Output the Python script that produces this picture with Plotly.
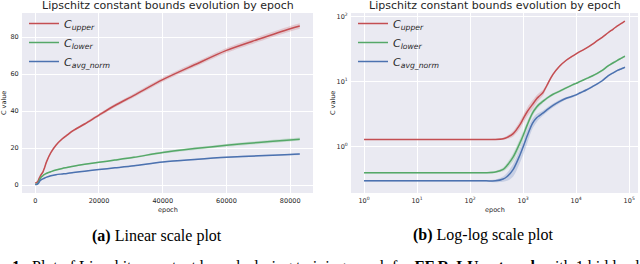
import plotly.graph_objects as go

# ---------------- data ----------------
epochs = [1, 10, 100, 200, 300, 420, 500, 650, 870, 1000, 1200, 1500, 1800, 2000,
          2350, 2800, 3600, 4900, 6500, 8500, 10000, 12000, 15500, 20000, 25000,
          31000, 40000, 50000, 60000, 70000, 80000, 83000]

c_upper = [1.3, 1.3, 1.3, 1.3, 1.3, 1.33, 1.4, 1.6, 2.2, 2.7, 3.5, 4.5, 5.5, 6.0,
           6.8, 8.8, 12.8, 17.5, 21.5, 25.0, 27.0, 29.5, 33.0, 37.8, 43.0,
           48.5, 57.0, 65.0, 72.8, 78.8, 84.5, 86.0]
c_lower = [0.40, 0.40, 0.40, 0.40, 0.41, 0.45, 0.52, 0.70, 1.15, 1.5, 2.2, 3.3, 4.1, 4.5,
           5.0, 5.6, 6.4, 7.2, 8.1, 9.0, 9.5, 10.2, 11.2, 12.3, 13.5,
           15.0, 17.6, 19.7, 21.5, 23.0, 24.4, 24.8]
c_avg = [0.30, 0.30, 0.30, 0.30, 0.30, 0.32, 0.35, 0.45, 0.75, 1.0, 1.5, 2.3, 2.8, 3.0,
         3.3, 3.7, 4.3, 5.0, 5.6, 6.0, 6.3, 6.8, 7.5, 8.4, 9.3,
         10.4, 12.4, 13.8, 15.0, 15.8, 16.5, 16.8]

std_upper = [0.02, 0.02, 0.02, 0.02, 0.03, 0.05, 0.08, 0.15, 0.3, 0.4, 0.55, 0.7, 0.75, 0.75,
             0.7, 0.6, 0.6, 0.6, 0.6, 0.6, 0.6, 0.6, 0.7, 0.8, 0.9,
             1.0, 1.1, 1.2, 1.3, 1.4, 1.5, 1.5]
std_lower = [0.01, 0.01, 0.01, 0.01, 0.015, 0.03, 0.05, 0.1, 0.18, 0.22, 0.3, 0.35, 0.35, 0.35,
             0.3, 0.3, 0.3, 0.3, 0.3, 0.3, 0.3, 0.3, 0.35, 0.4, 0.5,
             0.55, 0.6, 0.7, 0.75, 0.8, 0.85, 0.9]
std_avg = [0.01, 0.01, 0.01, 0.01, 0.015, 0.03, 0.05, 0.1, 0.18, 0.25, 0.35, 0.4, 0.4, 0.35,
           0.3, 0.3, 0.3, 0.3, 0.25, 0.25, 0.25, 0.25, 0.25, 0.3, 0.3,
           0.35, 0.35, 0.4, 0.4, 0.45, 0.45, 0.5]

series_names = ["<i>C</i><sub><i>upper</i></sub>",
                "<i>C</i><sub><i>lower</i></sub>",
                "<i>C</i><sub><i>avg_norm</i></sub>"]
series_values = [c_upper, c_lower, c_avg]
series_std = [std_upper, std_lower, std_avg]
series_colors = ["#C44E52", "#55A868", "#4C72B0"]
band_colors = ["rgba(196,78,82,0.22)", "rgba(85,168,104,0.22)", "rgba(76,114,176,0.22)"]

lin_xticks = [0, 20000, 40000, 60000, 80000]
lin_yticks = [0, 20, 40, 60, 80]
log_xticks = [1, 10, 100, 1000, 10000, 100000]
log_xticktext = ["10<sup>0</sup>", "10<sup>1</sup>", "10<sup>2</sup>",
                 "10<sup>3</sup>", "10<sup>4</sup>", "10<sup>5</sup>"]
log_yticks = [1, 10, 100]
log_yticktext = ["10<sup>0</sup>", "10<sup>1</sup>", "10<sup>2</sup>"]

title_text = "Lipschitz constant bounds evolution by epoch"
caption_a = "<b>(a)</b> Linear scale plot"
caption_b = "<b>(b)</b> Log-log scale plot"
caption_fig = ("<b>1.</b>  Plot of Lipschitz constant bounds during training epoch for "
               "<b>FF ReLU network</b> with 1 hidden layer")

# ---------------- layout helpers ----------------
W, H = 640, 264
def px_x(p):
    return p / W
def px_y(p):
    return 1 - p / H

BG = "#EAEAF2"
TXT = "#262626"
FONT = "DejaVu Sans"

fig = go.Figure()

def add_series(xaxis, yaxis, legend, showlegend):
    for name, vals, sd, col, bcol in zip(series_names, series_values, series_std,
                                         series_colors, band_colors):
        lo = [v - s for v, s in zip(vals, sd)]
        hi = [v + s for v, s in zip(vals, sd)]
        fig.add_trace(go.Scatter(x=epochs, y=lo, mode="lines", line=dict(width=0, shape="spline", smoothing=0.8),
                                 hoverinfo="skip", showlegend=False, xaxis=xaxis, yaxis=yaxis))
        fig.add_trace(go.Scatter(x=epochs, y=hi, mode="lines", line=dict(width=0, shape="spline", smoothing=0.8),
                                 fill="tonexty", fillcolor=bcol, hoverinfo="skip", showlegend=False,
                                 xaxis=xaxis, yaxis=yaxis))
        fig.add_trace(go.Scatter(x=epochs, y=vals, mode="lines", name=name,
                                 line=dict(color=col, width=1.5, shape="spline", smoothing=0.8),
                                 showlegend=showlegend, legend=legend, xaxis=xaxis, yaxis=yaxis))

add_series("x", "y", "legend", True)
add_series("x2", "y2", "legend2", True)

tickfont = dict(family=FONT, size=6.5, color=TXT)
common = dict(showgrid=True, gridcolor="white", gridwidth=1, zeroline=False, showline=False,
              ticks="outside", ticklen=1, tickcolor="rgba(0,0,0,0)", tickfont=tickfont)

L_left, L_right = 22, 313
R_left, R_right = 351, 638
P_top, P_bot = 13, 193

legend_common = dict(xanchor="left", yanchor="top", traceorder="normal",
                     bgcolor="rgba(0,0,0,0)", font=dict(family=FONT, size=11, color=TXT),
                     tracegroupgap=0)

fig.update_layout(
    width=W, height=H,
    margin=dict(l=0, r=0, t=0, b=0),
    paper_bgcolor="white",
    plot_bgcolor=BG,
    xaxis=dict(domain=[px_x(L_left), px_x(L_right)], anchor="y", range=[-4150, 87150],
               tickvals=lin_xticks, tickformat="d", **common),
    yaxis=dict(domain=[px_y(P_bot), px_y(P_top)], anchor="x", range=[-4.3, 93],
               tickvals=lin_yticks, **common),
    xaxis2=dict(domain=[px_x(R_left), px_x(R_right)], anchor="y2", type="log",
                range=[-0.246, 5.166], tickvals=log_xticks, ticktext=log_xticktext, **common),
    yaxis2=dict(domain=[px_y(P_bot), px_y(P_top)], anchor="x2", type="log",
                range=[-0.71, 2.06], tickvals=log_yticks, ticktext=log_yticktext, **common),
    legend=dict(x=px_x(24), y=px_y(9), **legend_common),
    legend2=dict(x=px_x(353), y=px_y(9), **legend_common),
    showlegend=True,
)

ann = []
for cx in [(L_left + L_right) / 2, (R_left + R_right) / 2]:
    ann.append(dict(text=title_text, x=px_x(cx), y=px_y(5.5), xref="paper", yref="paper",
                    xanchor="center", yanchor="middle", showarrow=False,
                    font=dict(family=FONT, size=11, color=TXT)))
    ann.append(dict(text="epoch", x=px_x(cx), y=px_y(210), xref="paper", yref="paper",
                    xanchor="center", yanchor="middle", showarrow=False,
                    font=dict(family=FONT, size=6.5, color=TXT)))
for cx in [4, 333]:
    ann.append(dict(text="C value", x=px_x(cx), y=px_y(103), xref="paper", yref="paper",
                    xanchor="center", yanchor="middle", showarrow=False, textangle=-90,
                    font=dict(family=FONT, size=6.5, color=TXT)))
ann.append(dict(text=caption_a, x=px_x(157), y=px_y(236), xref="paper", yref="paper",
                xanchor="center", yanchor="middle", showarrow=False,
                font=dict(family="Liberation Serif", size=16, color="black")))
ann.append(dict(text=caption_b, x=px_x(483), y=px_y(235), xref="paper", yref="paper",
                xanchor="center", yanchor="middle", showarrow=False,
                font=dict(family="Liberation Serif", size=16, color="black")))
ann.append(dict(text=caption_fig, x=px_x(10), y=px_y(256), xref="paper", yref="paper",
                xanchor="left", yanchor="top", showarrow=False,
                font=dict(family="Liberation Serif", size=16, color="black")))
fig.update_layout(annotations=ann)

fig.write_html("out.html", config={"displayModeBar": False},
               post_script="document.body.style.margin='0';")
